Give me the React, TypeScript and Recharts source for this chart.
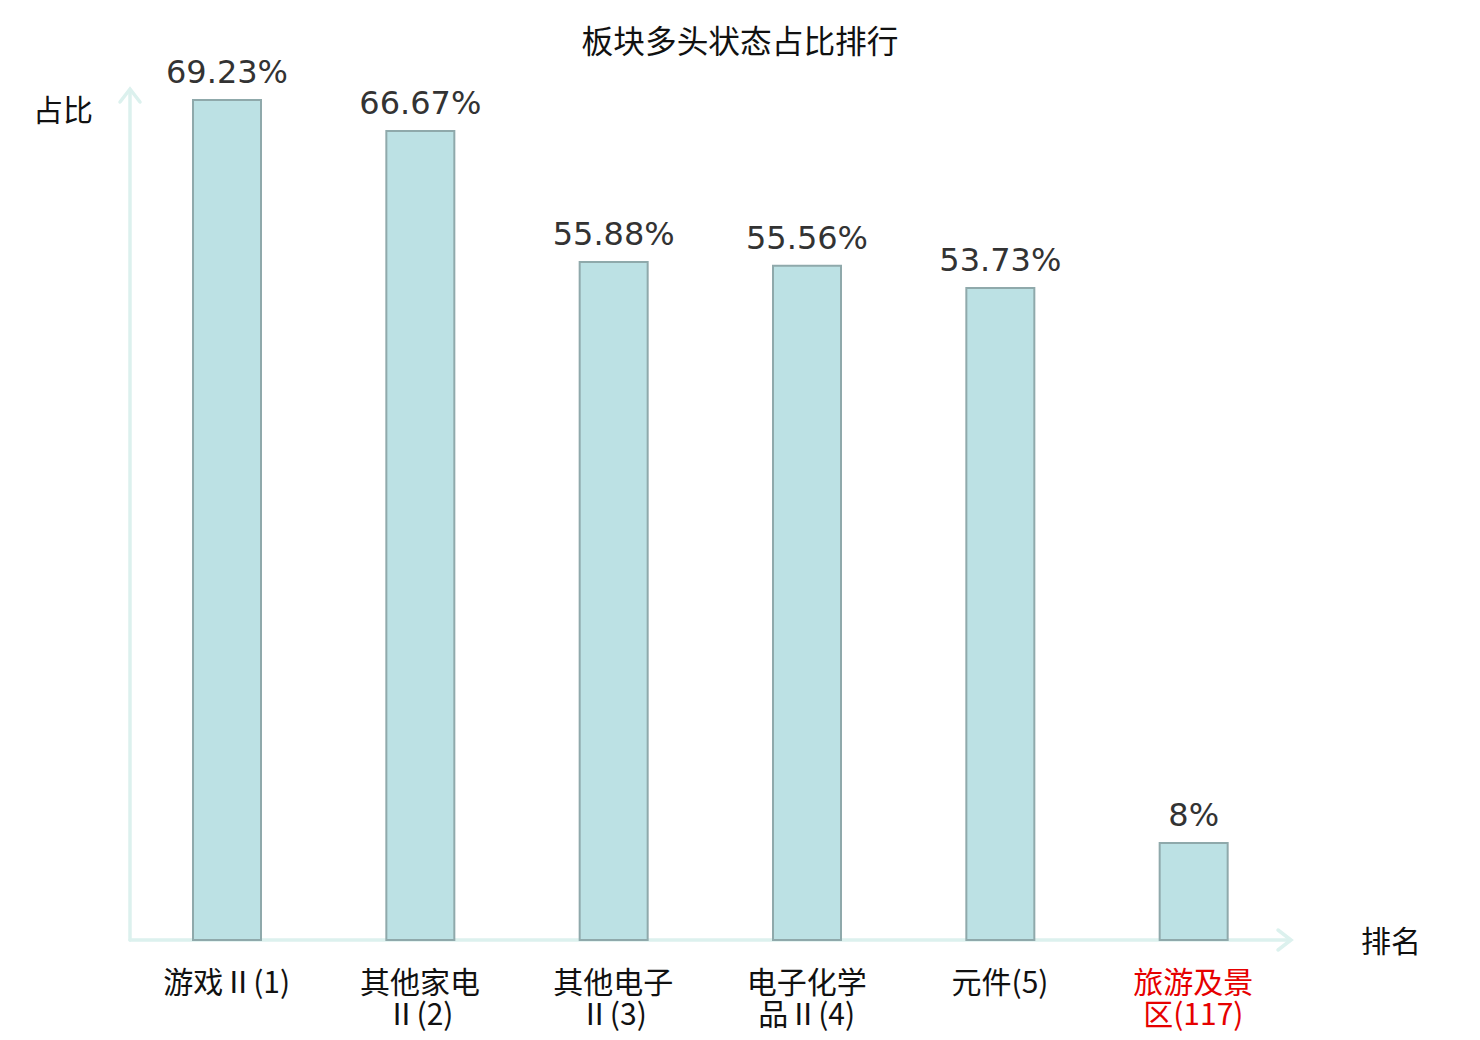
import React from 'react'
import { BarChart, Bar, XAxis, YAxis, LabelList, Customized } from 'recharts'

const categories = ['游戏Ⅱ(1)', '其他家电Ⅱ(2)', '其他电子Ⅱ(3)', '电子化学品Ⅱ(4)', '元件(5)', '旅游及景区(117)']
const ratios = [69.23, 66.67, 55.88, 55.56, 53.73, 8]
const highlighted = ['旅游及景区(117)']

const data = categories.map((name, i) => ({ name, value: ratios[i] }))

const W = 1480
const H = 1040
const M = { top: 100, right: 190, bottom: 0, left: 130 }
const X_AXIS_H = 100
const AXIS_COLOR = '#dcf1ee'
const CJK = '"Noto Sans CJK SC", "Noto Sans", sans-serif'
const LATIN = '"DejaVu Sans", sans-serif'

// split a label into lines of roughly 4 CJK chars
function wrapLabel(s: string, maxUnits = 4.2) {
  const lines: string[] = []
  let cur = ''
  let units = 0
  for (const ch of Array.from(s)) {
    const u = /[\u4e00-\u9fff]/.test(ch) ? 1 : 0.5
    if (units + u > maxUnits && cur) {
      lines.push(cur)
      cur = ''
      units = 0
    }
    cur += ch
    units += u
  }
  if (cur) lines.push(cur)
  return lines
}

function CategoryTick({ x, y, payload }: any) {
  const lines = wrapLabel(payload.value)
  const red = highlighted.includes(payload.value)
  return (
    <g transform={`translate(${x},${y})`}>
      {lines.map((l, i) => (
        <text
          key={i}
          x={0}
          y={45 + i * 32}
          textAnchor="middle"
          fontFamily={CJK}
          fontSize={30}
          fill={red ? '#e60000' : '#111'}
        >
          {l}
        </text>
      ))}
    </g>
  )
}

function ValueLabel({ x, y, width, value }: any) {
  return (
    <text
      x={x + width / 2}
      y={y - 17}
      textAnchor="middle"
      fontFamily={LATIN}
      fontSize={32}
      fill="#333"
    >
      {`${value}%`}
    </text>
  )
}

function Decorations() {
  const x0 = M.left
  const y0 = H - X_AXIS_H
  const yTop = 89
  const xEnd = 1291
  return (
    <g>
      <text x={740} y={53} textAnchor="middle" fontFamily={CJK} fontSize={31.7} fill="#111">
        板块多头状态占比排行
      </text>
      <text x={63} y={121} textAnchor="middle" fontFamily={CJK} fontSize={30} fill="#111">
        占比
      </text>
      <text x={1391} y={952} textAnchor="middle" fontFamily={CJK} fontSize={30} fill="#111">
        排名
      </text>
      <g stroke={AXIS_COLOR} strokeWidth={3.5} fill="none" strokeLinecap="round">
        <line x1={x0} y1={y0} x2={x0} y2={yTop + 1} />
        <polyline points={`${x0 - 10},${yTop + 13} ${x0},${yTop} ${x0 + 10},${yTop + 13}`} />
        <line x1={x0} y1={y0} x2={xEnd - 1} y2={y0} />
        <polyline points={`${xEnd - 13},${y0 - 10} ${xEnd},${y0} ${xEnd - 13},${y0 + 10}`} />
      </g>
    </g>
  )
}

export default function App() {
  return (
    <div style={{ position: 'absolute', left: 0, top: 0, width: W, height: H, background: '#fff' }}>
      <BarChart width={W} height={H} data={data} margin={M}>
        <XAxis
          dataKey="name"
          axisLine={false}
          tickLine={false}
          height={X_AXIS_H}
          interval={0}
          tick={<CategoryTick />}
        />
        <YAxis hide domain={[0, 'dataMax']} />
        <Customized component={<Decorations />} />
        <Bar
          dataKey="value"
          barSize={68}
          fill="#bce1e4"
          stroke="#8fa9ab"
          strokeWidth={2}
          isAnimationActive={false}
        >
          <LabelList dataKey="value" content={<ValueLabel />} />
        </Bar>
      </BarChart>
    </div>
  )
}
